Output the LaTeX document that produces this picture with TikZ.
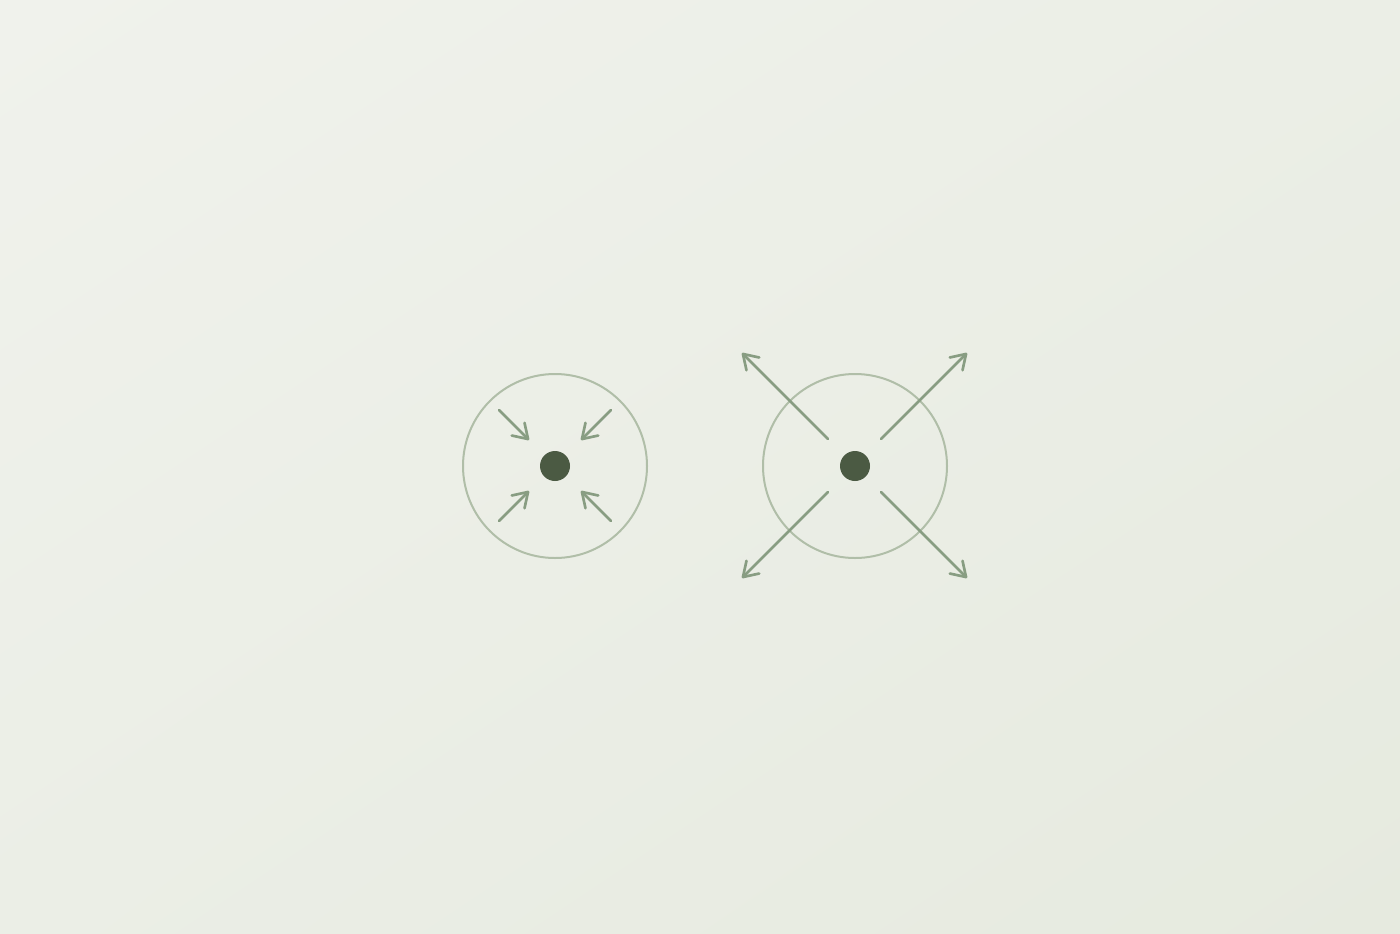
\documentclass[tikz,border=0pt]{standalone}
\usetikzlibrary{arrows.meta, shadings}
\definecolor{bgtopleft}{HTML}{F0F2EC}
\definecolor{bgmid}{HTML}{EBEEE6}
\definecolor{bgbottomright}{HTML}{E6EADF}
\definecolor{ringgreen}{HTML}{B0BEA8}
\definecolor{arrowgreen}{HTML}{889D82}
\definecolor{dotgreen}{HTML}{4B5A43}
\begin{document}
\begin{tikzpicture}[x=0.75pt, y=-0.75pt,
ringnode/.style={circle, draw=ringgreen, line width=1.5pt, minimum size=138pt, inner sep=0pt},
dotnode/.style={circle, fill=dotgreen, minimum size=22.5pt, inner sep=0pt},
forcearrow/.style={draw=arrowgreen, line width=2pt, line cap=round, -{Straight Barb[length=10.5pt, width=13.5pt, line cap=round, line join=round]}},
]
%Background
\useasboundingbox (0,0) rectangle (1400,933);
\shade[upper left=bgtopleft, upper right=bgmid, lower left=bgmid, lower right=bgbottomright] (0,0) rectangle (1400,933);

%Nodes
\node[ringnode] (ring_in) at (555,466) {};
\node[dotnode] (dot_in) at (555,466) {};
\node[ringnode] (ring_out) at (855,466) {};
\node[dotnode] (dot_out) at (855,466) {};

%Arrow ends
\coordinate (in_nw_start) at (499,410);
\coordinate (in_nw_tip) at (529,440);
\coordinate (in_ne_start) at (611,410);
\coordinate (in_ne_tip) at (581,440);
\coordinate (in_sw_start) at (499,521);
\coordinate (in_sw_tip) at (529,491);
\coordinate (in_se_start) at (611,521);
\coordinate (in_se_tip) at (581,491);

\coordinate (out_nw_start) at (828,439);
\coordinate (out_nw_tip) at (742,353);
\coordinate (out_ne_start) at (881,439);
\coordinate (out_ne_tip) at (967,353);
\coordinate (out_sw_start) at (828,492);
\coordinate (out_sw_tip) at (742,578);
\coordinate (out_se_start) at (881,492);
\coordinate (out_se_tip) at (967,578);

%Lines
\draw[forcearrow] (in_nw_start) -- (in_nw_tip);
\draw[forcearrow] (in_ne_start) -- (in_ne_tip);
\draw[forcearrow] (in_sw_start) -- (in_sw_tip);
\draw[forcearrow] (in_se_start) -- (in_se_tip);
\draw[forcearrow] (out_nw_start) -- (out_nw_tip);
\draw[forcearrow] (out_ne_start) -- (out_ne_tip);
\draw[forcearrow] (out_sw_start) -- (out_sw_tip);
\draw[forcearrow] (out_se_start) -- (out_se_tip);

\end{tikzpicture}
\end{document}
